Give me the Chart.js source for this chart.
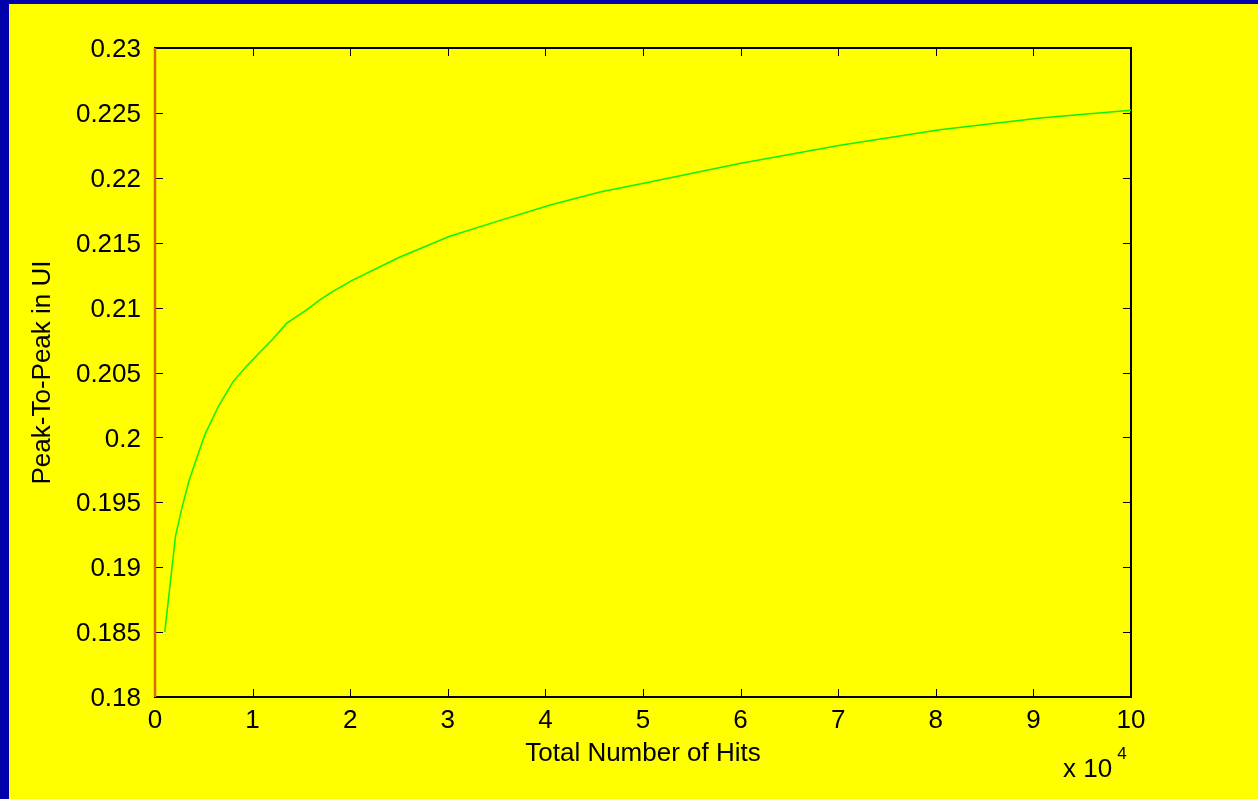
<!DOCTYPE html>
<html lang="en">
<head>
    <meta charset="UTF-8">
    <title>Peak-To-Peak in UI</title>
    <script src="https://cdn.jsdelivr.net/npm/chart.js"></script>
    <style>
        body {
            margin: 0;
            padding: 0;
            background-color: #0000aa;
            width: 1258px;
            height: 799px;
            overflow: hidden;
            font-family: Arial, 'Liberation Sans', sans-serif;
        }
        .frame {
            position: absolute;
            left: 9px;
            top: 4px;
            width: 1249px;
            height: 795px;
            background-color: #ffff00;
        }
        .exponent {
            position: absolute;
            left: 1054px;
            top: 745px;
            font-size: 26px;
            line-height: 26px;
            color: #000;
            white-space: nowrap;
        }
        .exponent sup {
            font-size: 17px;
            position: relative;
            top: -8px;
            margin-left: 5px;
        }
    </style>
</head>
<body>

    <div class="frame">
        <canvas id="grafico"></canvas>
        <div class="exponent">x 10<sup>4</sup></div>
    </div>

    <script>
        // total number of hits, in units of 10^4
        const hits = [0.1, 0.21, 0.28, 0.35, 0.51, 0.65, 0.80, 0.94, 1.08, 1.21, 1.35, 1.55, 1.69, 1.81,
                      2.02, 2.51, 3.02, 3.53, 4.05, 4.56, 5.02, 5.99, 7.02, 8.04, 9.07, 10.0];
        // peak-to-peak jitter in UI
        const peakToPeak = [0.185, 0.1924, 0.1947, 0.1967, 0.2002, 0.2024, 0.2043, 0.2055, 0.2066, 0.2076, 0.2088, 0.2098, 0.2106, 0.2112,
                            0.2121, 0.2139, 0.2155, 0.2167, 0.2179, 0.2189, 0.2196, 0.2211, 0.2225, 0.2237, 0.2246, 0.2252];
        // vertical marker at zero hits
        const markerX = [0, 0];
        const markerY = [0.18, 0.23];

        const xTicks = [0, 1, 2, 3, 4, 5, 6, 7, 8, 9, 10];
        const yTicks = [0.18, 0.185, 0.19, 0.195, 0.2, 0.205, 0.21, 0.215, 0.22, 0.225, 0.23];

        const fonte = 'Arial, "Liberation Sans", sans-serif';

        // matlab style box with inward ticks
        const caixa = {
            id: 'caixa',
            beforeDatasetsDraw(chart) {
                const ctx = chart.ctx;
                const a = chart.chartArea;
                const sx = chart.scales.x;
                const sy = chart.scales.y;
                const len = 8;
                ctx.save();
                ctx.strokeStyle = '#000';
                ctx.lineWidth = 1;
                ctx.beginPath();
                xTicks.forEach(v => {
                    const px = Math.round(sx.getPixelForValue(v)) + 0.5;
                    ctx.moveTo(px, a.bottom); ctx.lineTo(px, a.bottom - len);
                    ctx.moveTo(px, a.top); ctx.lineTo(px, a.top + len);
                });
                yTicks.forEach(v => {
                    const py = Math.round(sy.getPixelForValue(v)) + 0.5;
                    ctx.moveTo(a.left, py); ctx.lineTo(a.left + len, py);
                    ctx.moveTo(a.right, py); ctx.lineTo(a.right - len, py);
                });
                ctx.stroke();
                ctx.lineWidth = 2;
                ctx.strokeRect(a.left, a.top, a.right - a.left, a.bottom - a.top);
                ctx.restore();
            }
        };

        const ctx = document.getElementById('grafico').getContext('2d');

        new Chart(ctx, {
            type: 'scatter',
            data: {
                datasets: [
                    {
                        data: hits.map((x, i) => ({ x: x, y: peakToPeak[i] })),
                        showLine: true,
                        borderColor: '#10f000',
                        borderWidth: 1.5,
                        pointRadius: 0,
                        tension: 0
                    },
                    {
                        data: markerX.map((x, i) => ({ x: x, y: markerY[i] })),
                        showLine: true,
                        borderColor: '#d96a00',
                        borderWidth: 2.5,
                        pointRadius: 0,
                        clip: false
                    }
                ]
            },
            options: {
                responsive: true,
                maintainAspectRatio: false,
                animation: false,
                layout: {
                    padding: { left: 0, top: 44, right: 127, bottom: 0 }
                },
                plugins: {
                    legend: { display: false },
                    tooltip: { enabled: false }
                },
                scales: {
                    x: {
                        type: 'linear',
                        min: 0,
                        max: 10,
                        afterBuildTicks: s => { s.ticks = xTicks.map(v => ({ value: v })); },
                        afterFit: s => { s.height = 102; },
                        grid: { display: false, drawTicks: false },
                        border: { display: false },
                        ticks: {
                            color: '#000',
                            padding: 8,
                            maxRotation: 0,
                            font: { family: fonte, size: 26 },
                            callback: v => String(v)
                        },
                        title: {
                            display: true,
                            text: 'Total Number of Hits',
                            color: '#000',
                            font: { family: fonte, size: 26 },
                            padding: { top: 0, bottom: 30 }
                        }
                    },
                    y: {
                        min: 0.18,
                        max: 0.23,
                        afterBuildTicks: s => { s.ticks = yTicks.map(v => ({ value: v })); },
                        afterFit: s => { s.width = 146; },
                        grid: { display: false, drawTicks: false },
                        border: { display: false },
                        ticks: {
                            color: '#000',
                            padding: 14,
                            labelOffset: 2,
                            font: { family: fonte, size: 26 },
                            callback: v => String(Number(v.toFixed(3)))
                        },
                        title: {
                            display: true,
                            text: 'Peak-To-Peak in UI',
                            color: '#000',
                            font: { family: fonte, size: 26 },
                            padding: { top: 18, bottom: 0 }
                        }
                    }
                }
            },
            plugins: [caixa]
        });
    </script>

</body>
</html>
